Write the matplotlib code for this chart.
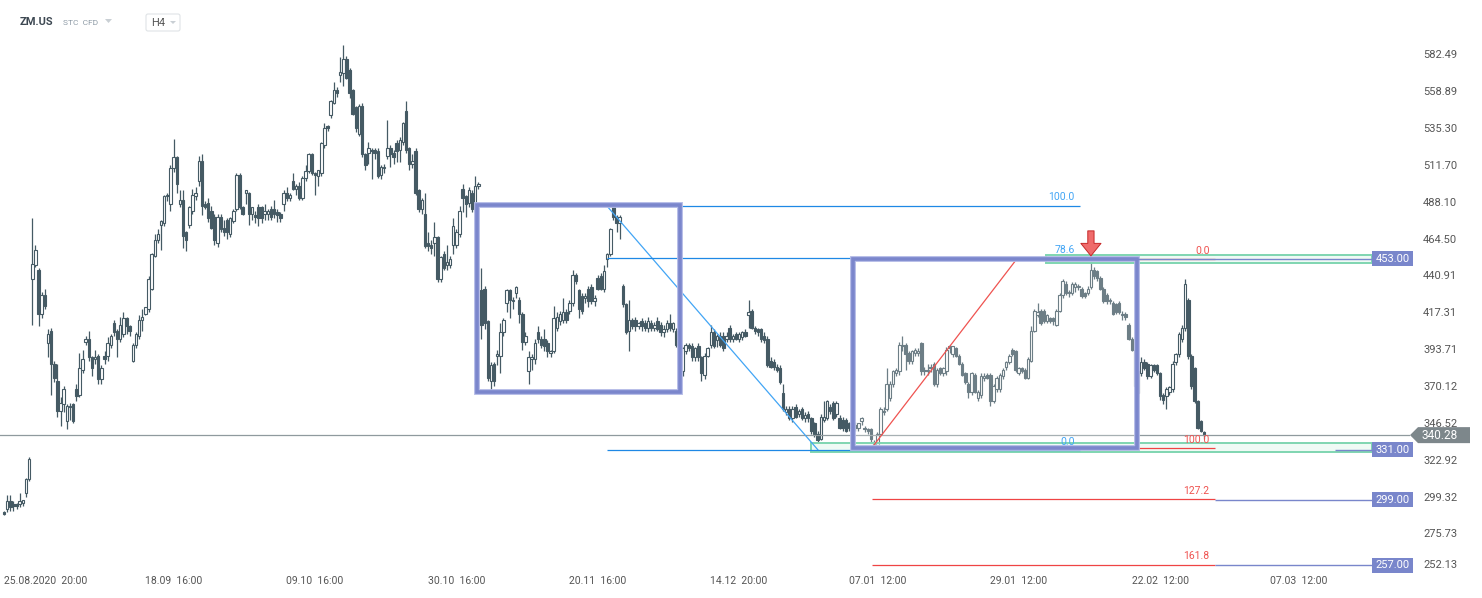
import numpy as np
import matplotlib
matplotlib.use("Agg")
import matplotlib.pyplot as plt
from matplotlib.patches import Rectangle, Polygon, FancyBboxPatch
from matplotlib.transforms import Affine2D

symbol = "ZM.US"
instrument = "STC  CFD"
interval = "H4"

# H4 candles
opens = [
    291, 293, 298, 296, 296, 296, 297, 303, 312, 440,
    449, 446, 418, 430, 399, 407, 386, 375, 356, 360,
    349, 358, 360, 370, 366, 382, 400, 402, 390, 389,
    391, 376, 391, 391, 398, 412, 407, 402, 405, 415,
    410, 388, 398, 404, 414, 418, 421, 434, 455, 465,
    475, 476, 493, 488, 511, 518, 488, 491, 470, 475,
    484, 493, 503, 516, 488, 489, 484, 480, 463, 480,
    473, 478, 469, 477, 485, 507, 486, 495, 495, 482,
    481, 486, 486, 482, 482, 485, 485, 483, 482, 488,
    495, 492, 503, 498, 500, 492, 505, 509, 520, 508,
    506, 508, 526, 538, 545, 553, 561, 571, 572, 581,
    574, 561, 550, 533, 551, 520, 521, 523, 523, 522,
    507, 511, 519, 524, 521, 527, 523, 528, 548, 524,
    514, 522, 497, 485, 482, 463, 462, 463, 467, 440,
    456, 449, 449, 462, 462, 469, 498, 493, 489, 495,
    485, 500, 433, 434, 413, 375, 386, 391, 391, 406,
    425, 433, 426, 431, 427, 418, 400, 381, 389, 389,
    406, 402, 402, 399, 393, 394, 409, 413, 414, 419,
    420, 425, 443, 433, 429, 428, 434, 435, 426, 441,
    442, 434, 453, 456, 486, 480, 476, 436, 424,
    407, 414, 414, 410, 413, 412, 409, 412, 409,
    413, 411, 406, 408, 412, 408, 407, 399, 381,
    394, 398, 397, 390, 397, 390, 379, 391, 398, 406,
    401, 404, 404, 402, 409, 402, 405, 402, 403, 406,
    417, 420, 409, 408, 408, 404, 402, 388, 387, 384,
    383, 367, 355, 357, 351, 358, 354, 357, 351, 354,
    351, 348, 341, 338, 350, 351, 358, 361, 354, 351,
    350, 350, 348, 348, 347, 345, 349, 345, 344,
    344, 334, 334, 341, 355, 357, 364, 373, 380, 381,
    398, 398, 393, 388, 393, 393, 399, 382, 381, 384,
    386, 373, 383, 380, 381, 397, 392, 396, 391,
    386, 380, 373, 368, 379, 364, 366, 377, 379,
    379, 362, 370, 370, 378, 384, 387,
    395, 394, 380, 383, 382, 377,
    388, 407, 417, 420, 420, 413, 415,
    415, 411, 420, 430, 437, 432, 431, 435, 435, 434, 431,
    431, 435, 446, 445, 441, 434, 430, 427, 425, 424,
    425, 417, 418, 411, 402, 395, 367, 380, 387, 386, 378, 385, 385, 380,
    366, 365, 368, 370, 387, 392, 402, 409, 427, 391, 383, 362, 349, 342,
]
highs = [
    292, 302, 302, 298, 297, 303, 299, 313, 326, 479,
    462, 447, 432, 434, 408, 409, 388, 386, 365, 372,
    360, 361, 361, 373, 393, 395, 404, 407, 391, 395,
    392, 385, 394, 403, 405, 414, 408, 416, 419, 416,
    411, 399, 406, 417, 421, 422, 442, 457, 469, 472,
    478, 494, 495, 513, 530, 519, 497, 497, 471, 487,
    498, 499, 519, 520, 490, 492, 487, 482, 482, 482,
    478, 479, 480, 485, 508, 508, 487, 497, 496, 486,
    484, 488, 487, 488, 485, 487, 491, 485, 483, 497,
    499, 495, 508, 501, 502, 506, 513, 521, 521, 509,
    510, 528, 540, 539, 555, 566, 563, 582, 590, 583,
    575, 562, 551, 552, 553, 521, 528, 524, 524, 524,
    513, 514, 542, 526, 523, 529, 531, 541, 554, 525,
    520, 524, 498, 492, 495, 470, 465, 477, 468, 455,
    458, 462, 455, 479, 472, 487, 501, 494, 499, 497,
    506, 502, 447, 436, 414, 387, 387, 395, 412, 415,
    434, 434, 429, 436, 429, 419, 406, 394, 392, 402,
    410, 404, 408, 401, 395, 423, 419, 420, 428, 421,
    427, 446, 444, 434, 431, 431, 436, 437, 430, 443,
    444, 449, 457, 473, 487, 481, 481, 437, 425,
    427, 415, 416, 413, 415, 414, 416, 414, 413,
    416, 413, 411, 414, 418, 413, 409, 402, 397,
    399, 399, 399, 397, 399, 391, 393, 397, 411, 408,
    405, 406, 406, 406, 411, 405, 406, 406, 407, 408,
    427, 421, 410, 409, 409, 406, 404, 390, 389, 386,
    385, 373, 359, 359, 359, 360, 357, 358, 355, 356,
    352, 349, 343, 354, 362, 363, 360, 362, 362, 353,
    352, 351, 349, 350, 349, 348, 352, 346, 345,
    345, 337, 342, 358, 358, 383, 375, 382, 383, 400,
    404, 399, 394, 395, 396, 396, 400, 384, 386, 386,
    387, 383, 384, 384, 397, 398, 397, 397, 392,
    387, 381, 374, 381, 380, 369, 380, 380, 380,
    380, 373, 378, 380, 383, 388, 392,
    396, 395, 384, 384, 383, 390,
    410, 421, 425, 421, 421, 418, 416,
    416, 421, 431, 440, 439, 433, 438, 438, 437, 435, 432,
    436, 451, 448, 446, 442, 435, 431, 428, 426, 425,
    426, 420, 419, 412, 403, 396, 383, 390, 389, 387, 386, 386, 386, 381,
    367, 371, 372, 388, 393, 406, 411, 440, 428, 392, 384, 363, 350, 343,
]
lows = [
    289, 291, 292, 292, 293, 294, 295, 301, 311, 411,
    448, 410, 415, 421, 390, 366, 374, 352, 346, 355,
    344, 350, 348, 362, 365, 380, 398, 388, 378, 386,
    373, 373, 386, 388, 396, 404, 390, 400, 403, 405,
    404, 387, 396, 402, 407, 417, 419, 433, 454, 463,
    459, 474, 490, 484, 509, 495, 486, 460, 458, 473,
    482, 491, 500, 481, 485, 477, 472, 462, 461, 470,
    468, 466, 467, 476, 484, 485, 481, 488, 475, 478,
    476, 474, 476, 478, 478, 478, 479, 477, 477, 484,
    490, 490, 497, 494, 491, 491, 503, 508, 507, 494,
    500, 506, 524, 535, 543, 552, 557, 566, 564, 568,
    556, 545, 534, 532, 518, 510, 514, 504, 517, 505,
    504, 508, 517, 512, 514, 515, 515, 526, 521, 510,
    511, 494, 483, 482, 460, 458, 456, 455, 438, 438,
    446, 446, 447, 456, 460, 467, 483, 480, 486, 483,
    483, 498, 402, 408, 375, 368, 372, 385, 380, 404,
    419, 415, 421, 428, 412, 395, 398, 373, 382, 386,
    399, 396, 394, 390, 390, 393, 407, 411, 412, 412,
    418, 423, 437, 415, 418, 425, 422, 424, 423, 433,
    433, 432, 448, 455, 478, 470, 466, 422, 405,
    394, 408, 407, 408, 407, 407, 406, 407, 407,
    407, 404, 403, 406, 407, 406, 397, 382, 378,
    392, 394, 388, 388, 388, 375, 376, 390, 396, 396,
    397, 397, 394, 400, 400, 400, 401, 400, 401, 403,
    409, 408, 405, 404, 400, 399, 384, 383, 382, 381,
    373, 356, 353, 350, 349, 351, 352, 350, 349, 349,
    341, 339, 336, 337, 349, 350, 354, 350, 352, 344,
    343, 342, 343, 344, 343, 343, 347, 342, 341,
    336, 333, 333, 340, 353, 356, 362, 371, 378, 379,
    394, 382, 386, 386, 391, 391, 379, 379, 379, 381,
    372, 371, 379, 378, 379, 393, 390, 390, 385,
    378, 373, 364, 366, 367, 362, 364, 375, 376,
    359, 361, 368, 368, 376, 382, 386,
    391, 381, 379, 380, 376, 376,
    387, 406, 416, 411, 412, 412, 412,
    411, 410, 419, 428, 430, 429, 430, 432, 433, 428, 428,
    430, 434, 440, 439, 433, 425, 424, 424, 417, 418,
    418, 414, 414, 401, 394, 355, 365, 378, 382, 376, 377, 381, 379, 363,
    360, 357, 366, 368, 385, 390, 400, 407, 389, 370, 361, 344, 342, 338,
]
closes = [
    290, 298, 294, 295, 295, 298, 299, 312, 325, 450,
    459, 418, 430, 423, 405, 386, 377, 356, 361, 370,
    359, 359, 349, 365, 383, 389, 402, 390, 383, 390,
    376, 383, 389, 399, 404, 406, 402, 411, 415, 410,
    407, 398, 405, 414, 416, 422, 440, 456, 465, 469,
    477, 493, 494, 511, 518, 501, 491, 468, 465, 486,
    494, 495, 516, 487, 486, 479, 473, 465, 480, 472,
    470, 470, 479, 484, 507, 486, 482, 497, 482, 486,
    480, 479, 479, 484, 484, 480, 482, 481, 479, 495,
    492, 494, 498, 500, 492, 505, 509, 520, 508, 507,
    510, 527, 537, 537, 554, 561, 559, 573, 581, 569,
    559, 546, 537, 551, 520, 513, 524, 522, 521, 506,
    512, 512, 524, 520, 518, 522, 529, 540, 523, 514,
    516, 495, 485, 491, 461, 461, 460, 467, 440, 454,
    447, 451, 453, 474, 470, 484, 492, 488, 497, 485,
    500, 501, 411, 412, 377, 385, 375, 392, 406, 414,
    433, 427, 427, 435, 418, 400, 404, 390, 390, 399,
    402, 398, 397, 394, 394, 415, 416, 418, 419, 414,
    425, 443, 439, 421, 420, 429, 426, 426, 428, 434,
    434, 445, 456, 472, 480, 476, 480, 424, 406,
    414, 410, 410, 412, 410, 409, 413, 409, 411,
    408, 406, 408, 412, 409, 412, 398, 386, 396,
    398, 396, 390, 396, 390, 380, 391, 396, 406, 397,
    404, 398, 396, 404, 402, 404, 402, 405, 406, 404,
    419, 409, 407, 406, 402, 401, 385, 384, 384, 382,
    374, 357, 357, 351, 357, 352, 356, 351, 353, 351,
    343, 341, 337, 352, 352, 362, 356, 351, 361, 345,
    345, 343, 345, 346, 345, 348, 351, 344, 343,
    338, 336, 341, 357, 356, 373, 373, 381, 382, 398,
    397, 392, 388, 394, 395, 394, 381, 381, 382, 383,
    373, 382, 380, 383, 395, 396, 397, 391, 386,
    379, 374, 368, 380, 368, 368, 378, 378, 377,
    362, 372, 377, 379, 382, 387, 391,
    392, 382, 383, 381, 377, 389,
    407, 420, 419, 412, 413, 417, 413,
    413, 420, 430, 439, 431, 431, 437, 437, 436, 429, 429,
    434, 446, 442, 441, 434, 426, 426, 426, 418, 419,
    419, 418, 416, 402, 395, 372, 381, 387, 383, 378, 385, 382, 380, 365,
    363, 370, 371, 386, 392, 405, 409, 437, 391, 372, 362, 345, 343, 340.28,
]

last_price = 340.28
price_ticks = [582.49, 558.89, 535.30, 511.70, 488.10, 464.50, 440.91, 417.31,
               393.71, 370.12, 346.52, 322.92, 299.32, 275.73, 252.13]
date_labels = ["25.08.2020  20:00", "18.09  16:00", "09.10  16:00", "30.10  16:00",
               "20.11  16:00", "14.12  20:00", "07.01  12:00", "29.01  12:00",
               "22.02  12:00", "07.03  12:00"]
date_idx = [0, 54, 99, 144, 189, 234, 278, 323, 368, 412]

# drawings, anchored as (candle index, price)
box_a = (150.5, 215.2, 368.1, 487.6)
box_b = (270.2, 360.7, 331.8, 452.8)
fib_blue = (191.9, 487.0, 259.2, 330.6)
fib_blue_levels = [100.0, 78.6, 0.0]
fib_red = (276.2, 332.0, 322.4, 453.0)
fib_red_levels = [0.0, 100.0, 127.2, 161.8]
zones = [(331.7, 450.3, 455.6), (256.9, 329.5, 335.3)]
level_tags = [453.00, 331.00, 299.00, 257.00]
level_starts = [360.7, 423.7, 385.5, 385.5]

# screen geometry
W, H = 1482, 598
AX_RIGHT, AX_BOTTOM = 1410, 576
STEP, X0 = 3.1414, 4.0
PX, REF_Y, REF_P = 0.64, 259, 453.0


def ix(px):
    return (px - X0) / STEP


def pr(py):
    return REF_P - (py - REF_Y) * PX


plt.rcParams["font.family"] = ["Roboto", "DejaVu Sans"]

fig = plt.figure(figsize=(W / 100, H / 100), dpi=100)
ax = fig.add_axes([0, (H - AX_BOTTOM) / H, AX_RIGHT / W, AX_BOTTOM / H])
ax.set_xlim(ix(0), ix(AX_RIGHT))
ax.set_ylim(pr(AX_BOTTOM), pr(0))
ax.axis("off")

o = np.array(opens, float)
h = np.array(highs, float)
l = np.array(lows, float)
c = np.array(closes, float)
idx = np.arange(len(o))

candle = "#455a64"
ax.vlines(idx, l, h, color=candle, lw=0.9, zorder=2)
body_bottom = np.minimum(o, c)
body_height = np.maximum(np.abs(c - o), 0.3)
face = np.where(c >= o, "white", candle)
ax.bar(idx, body_height, width=0.8, bottom=body_bottom, color=face,
       edgecolor=candle, linewidth=0.8, zorder=3)

ax.axhline(last_price, color="#8f9a9e", lw=0.9, zorder=4)


def draw_box(box, shade=False):
    x0, x1, p0, p1 = box
    if shade:
        ax.add_patch(Rectangle((x0, p0), x1 - x0, p1 - p0, fc="white",
                               alpha=0.22, ec="none", zorder=4))
    ax.add_patch(Rectangle((x0, p0), x1 - x0, p1 - p0, fill=False,
                           ec="#b3bae6", lw=4.2, zorder=6))
    ax.add_patch(Rectangle((x0, p0), x1 - x0, p1 - p0, fill=False,
                           ec="#7b86cc", lw=2.6, zorder=6))


def draw_fib(fib, levels, x_end, line_c, diag_c, text_c):
    i0, p_start, i1, p_end = fib
    ax.plot([i0, i1], [p_start, p_end], color=diag_c, lw=0.9, zorder=5)
    for lv in levels:
        p = p_end + (p_start - p_end) * lv / 100
        ax.hlines(p, i0, x_end, color=line_c, lw=0.9, zorder=5)
        ax.annotate(f"{lv:.1f}", (x_end, p), xytext=(-4, 2.5),
                    textcoords="offset points", ha="right", va="bottom",
                    color=text_c, fontsize=7.5, zorder=8)


for i0, p0, p1 in zones:
    ax.add_patch(Rectangle((i0, p0), ix(1372) - i0, p1 - p0,
                           fc=(0.89, 0.97, 0.93, 0.55), ec="#7fd5b1",
                           lw=1.4, zorder=5))

draw_box(box_a)
draw_box(box_b, shade=True)
draw_fib(fib_blue, fib_blue_levels, ix(1080), "#1e88e5", "#42a5f5", "#42a5f5")
draw_fib(fib_red, fib_red_levels, ix(1215), "#ef4444", "#ef5350", "#ef5350")

tag_c = "#7986cb"
for p, start in zip(level_tags, level_starts):
    ax.hlines(p, start, ix(1372), color=tag_c, lw=1.0, zorder=6)
    ax.add_patch(Rectangle((ix(1372), p - 7.5 * PX), ix(1413) - ix(1372),
                           15 * PX, fc=tag_c, ec="none", zorder=9, clip_on=False))
    ax.text(ix(1392.5), p, f"{p:.2f}", ha="center", va="center", color="white",
            fontsize=8, zorder=10, clip_on=False)

# price scale
for v in price_ticks:
    yv = max(v, pr(AX_BOTTOM) + 9 * PX)
    ax.text(ix(1423), yv + 1.5 * PX, f"{v:.2f}", ha="left", va="center",
            fontsize=8, color="#555555", zorder=9, clip_on=False)

tag = Polygon([(ix(1410), last_price), (ix(1418), last_price + 8 * PX),
               (ix(1470), last_price + 8 * PX), (ix(1470), last_price - 8 * PX),
               (ix(1418), last_price - 8 * PX)], closed=True,
              fc="#7d878b", ec="none", zorder=10, clip_on=False)
ax.add_patch(tag)
ax.text(ix(1422), last_price, f"{last_price:.2f}", ha="left", va="center",
        color="white", fontsize=8.5, zorder=11, clip_on=False)

# time scale
for k, (i, lab) in enumerate(zip(date_idx, date_labels)):
    ax.text(i, -(581 - AX_BOTTOM) / AX_BOTTOM, lab, transform=ax.get_xaxis_transform(),
            ha="left" if k == 0 else "center", va="center", fontsize=7.5,
            color="#555555", clip_on=False)

# sell arrow over the top
peak = int(np.argmax(h[300:])) + 300
ax.annotate("", xy=(peak, 455.0), xytext=(0, 18), textcoords="offset points",
            arrowprops=dict(arrowstyle="simple,head_length=0.9,head_width=1.45,tail_width=0.45",
                            mutation_scale=10, fc="#ef6b6b", ec="#c62828", lw=0.7,
                            shrinkA=0, shrinkB=0), zorder=9)

# header
top_px = Affine2D().scale(1.0 / W, -1.0 / H).translate(0, 1) + fig.transFigure
fig.text(20 / W, 1 - 22 / H, symbol, fontsize=8, fontweight="bold",
         color="#3d4852", va="center")
fig.text(63 / W, 1 - 23 / H, instrument, fontsize=6, color="#8e9ba6", va="center")
fig.add_artist(Polygon([(105, 19), (112, 19), (108.5, 23)], closed=True,
                       transform=top_px, fc="#c9cfd4", ec="none"))
fig.add_artist(FancyBboxPatch((146, 14), 34, 17, boxstyle="round,pad=0,rounding_size=2",
                              transform=top_px, fc="white", ec="#dfe3e6", lw=0.8))
fig.text(151 / W, 1 - 23 / H, interval, fontsize=8, color="#555555", va="center")
fig.add_artist(Polygon([(170, 21), (176, 21), (173, 24)], closed=True,
                       transform=top_px, fc="#c9cfd4", ec="none"))

fig.savefig("out.png", dpi=100)
